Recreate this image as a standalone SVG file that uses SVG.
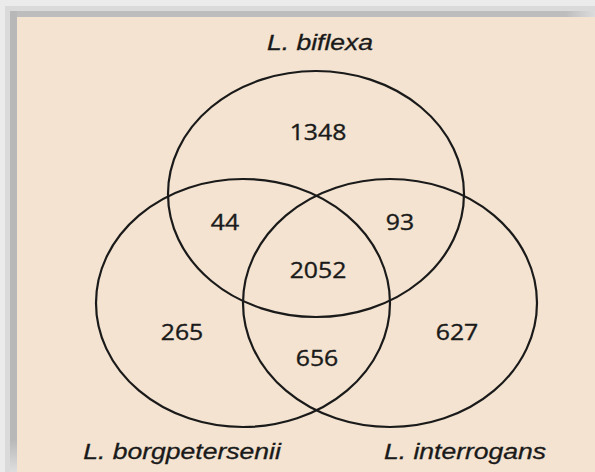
<svg xmlns="http://www.w3.org/2000/svg" width="595" height="472" viewBox="0 0 595 472">
  <defs>
    <linearGradient id="topFade" x1="0" y1="0" x2="1" y2="0">
      <stop offset="0" stop-color="#bdbdbd"/>
      <stop offset="0.95" stop-color="#bdbdbd"/>
      <stop offset="1" stop-color="#dcdcdc"/>
    </linearGradient>
    <linearGradient id="leftFade" x1="0" y1="0" x2="0" y2="1">
      <stop offset="0" stop-color="#b8b8b8"/>
      <stop offset="0.93" stop-color="#b8b8b8"/>
      <stop offset="1" stop-color="#dedede"/>
    </linearGradient>
    <style>
      .set { fill: none; stroke: #1a1a1a; stroke-width: 2.2; }
      .num { font-family: "Open Sans", "Liberation Sans", sans-serif; font-size: 21px; fill: #1a1a1a; stroke: #1a1a1a; stroke-width: 0.35; text-anchor: middle; }
      .lbl { font-family: "Liberation Sans", Arial, sans-serif; font-style: italic; font-size: 22.5px; fill: #1a1a1a; stroke: #1a1a1a; stroke-width: 0.3; text-anchor: middle; }
    </style>
  </defs>

  <!-- frame / shadow -->
  <rect x="0" y="0" width="595" height="472" fill="#ebebeb"/>
  <rect x="5" y="6" width="590" height="466" fill="#dadada"/>
  <rect x="10" y="11" width="585" height="6" fill="url(#topFade)"/>
  <rect x="10" y="11" width="7" height="461" fill="url(#leftFade)"/>
  <rect x="17" y="17" width="578" height="455" fill="#f3e3d0"/>

  <!-- set outlines -->
  <g id="connectors">
    <ellipse id="biflexa" class="set" cx="316" cy="194" rx="148" ry="123"/>
    <ellipse id="borgpetersenii" class="set" cx="243" cy="303" rx="147" ry="124"/>
    <ellipse id="interrogans" class="set" cx="390" cy="303" rx="147" ry="124"/>
  </g>

  <!-- labels -->
  <g id="label-biflexa"><text class="lbl" transform="translate(320,50) scale(1.18,1)">L. biflexa</text></g>
  <g id="label-borgpetersenii"><text class="lbl" transform="translate(182,459) scale(1.18,1)">L. borgpetersenii</text></g>
  <g id="label-interrogans"><text class="lbl" transform="translate(465,459) scale(1.18,1)">L. interrogans</text></g>

  <!-- region counts -->
  <g id="n1348"><text class="num" transform="translate(318,140) scale(1.18,1)">1348</text></g>
  <g id="n44"><text class="num" transform="translate(225,230) scale(1.18,1)">44</text></g>
  <g id="n93"><text class="num" transform="translate(400,230) scale(1.18,1)">93</text></g>
  <g id="n2052"><text class="num" transform="translate(318,278) scale(1.18,1)">2052</text></g>
  <g id="n265"><text class="num" transform="translate(182,340) scale(1.18,1)">265</text></g>
  <g id="n627"><text class="num" transform="translate(457,340) scale(1.18,1)">627</text></g>
  <g id="n656"><text class="num" transform="translate(317,366) scale(1.18,1)">656</text></g>
</svg>
